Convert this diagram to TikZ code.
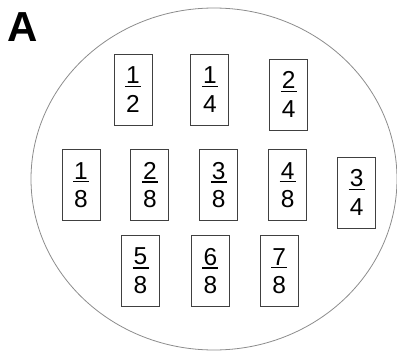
\documentclass[tikz,border=0pt]{standalone}
\usepackage{fontspec}
\setmainfont{Liberation Sans}
\usetikzlibrary{positioning}

\newcommand{\frc}[2]{\vbox{\hbox to 16pt{\hfil#1\hfil}\kern2pt\hrule height 1.4pt\kern8pt\hbox to 16pt{\hfil#2\hfil}}}

\begin{document}
\begin{tikzpicture}[x=1pt,y=-1pt,node distance=30pt]
        \tikzstyle{card}=[draw=black!75, line width=0.9pt, rectangle, minimum width=38pt, minimum height=71pt, inner sep=0pt, font=\fontsize{24.5}{24.5}\selectfont]

        \useasboundingbox (0,0) rectangle (397,351);

        % the plate
        \draw[black!45, line width=0.8pt] (214,179) ellipse [x radius=183, y radius=171];

        \node[anchor=base west, inner sep=0pt, font=\fontsize{42}{42}\selectfont\bfseries] (lbl) at (7,41) {A};

        % halves and quarters
        \node[card] (h1) at (133,89.5) {\frc{1}{2}};
        \node[card] (q1) [right=38pt of h1] {\frc{1}{4}};
        \node[card, yshift=-5pt] (q2) [right=40pt of q1] {\frc{2}{4}};

        % eighths
        \node[card] (e1) at (81,185) {\frc{1}{8}};
        \node[card] (e2) [right=of e1] {\frc{2}{8}};
        \node[card] (e3) [right=of e2] {\frc{3}{8}};
        \node[card] (e4) [right=of e3] {\frc{4}{8}};
        \node[card, yshift=-7.5pt] (q3) [right=of e4] {\frc{3}{4}};

        \node[card] (e5) at (140.5,271) {\frc{5}{8}};
        \node[card] (e6) [right=31pt of e5] {\frc{6}{8}};
        \node[card] (e7) [right=of e6] {\frc{7}{8}};

    \end{tikzpicture}
\end{document}
